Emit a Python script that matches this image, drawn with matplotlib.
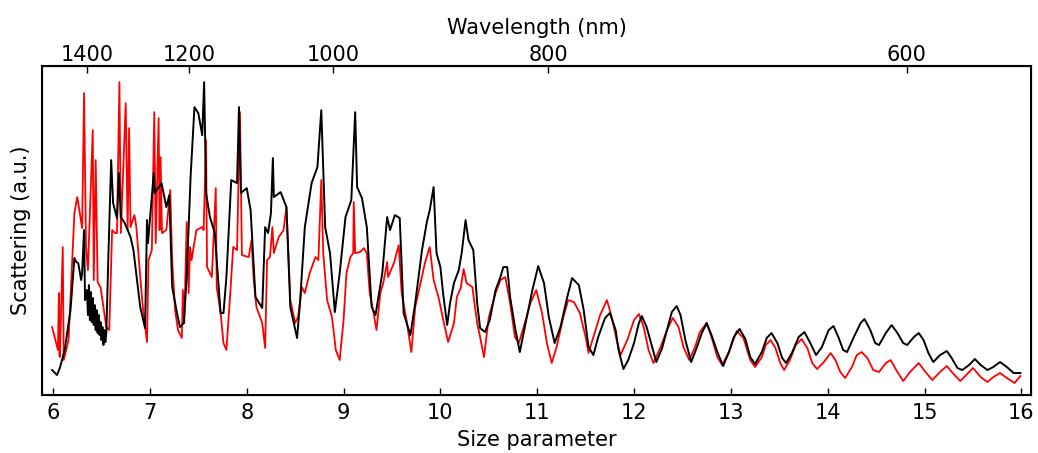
import matplotlib
matplotlib.use("Agg")
import matplotlib.pyplot as plt

# Measured (black) curve: size parameter and scattering (a.u.)
meas_x = [5.99, 6.04, 6.07, 6.12, 6.18, 6.22, 6.24, 6.26, 6.29, 6.30, 6.32, 6.33,
          6.35, 6.36, 6.37, 6.38, 6.39, 6.40, 6.41, 6.42, 6.43, 6.44, 6.45, 6.46, 6.47, 6.48,
          6.49, 6.50, 6.51, 6.52, 6.53, 6.54, 6.55, 6.57,
          6.60, 6.62, 6.66, 6.68, 6.70, 6.74, 6.80, 6.83, 6.90, 6.95, 6.97, 6.98, 7.04, 7.05,
          7.12, 7.17, 7.20, 7.23, 7.28, 7.31, 7.35, 7.38, 7.42, 7.46, 7.50, 7.54, 7.56, 7.58,
          7.62, 7.67, 7.73, 7.76, 7.79, 7.84, 7.90, 7.92, 7.94, 8.00, 8.04, 8.09, 8.16, 8.19,
          8.22, 8.25, 8.27, 8.28, 8.35, 8.41, 8.45, 8.52, 8.55, 8.60, 8.67, 8.73, 8.77, 8.81,
          8.86, 8.91, 8.96, 9.02, 9.08, 9.12, 9.14, 9.19, 9.24, 9.29, 9.33, 9.40, 9.45, 9.48,
          9.53, 9.58, 9.62, 9.69, 9.74, 9.81, 9.86,
          9.89, 9.93, 9.96, 10.00, 10.03, 10.07, 10.10, 10.14, 10.19, 10.22, 10.26, 10.29, 10.34, 10.38,
          10.41, 10.46, 10.51, 10.57, 10.62, 10.65, 10.69, 10.72, 10.77, 10.82, 10.88, 10.95, 11.01, 11.07,
          11.12, 11.18, 11.24, 11.31, 11.36, 11.43, 11.48, 11.53, 11.58, 11.63, 11.70, 11.75, 11.81, 11.84,
          11.89, 11.94, 12.00, 12.05, 12.08, 12.13, 12.19, 12.23, 12.29, 12.34, 12.39, 12.44, 12.48, 12.53,
          12.59, 12.65, 12.70, 12.75, 12.80, 12.86, 12.92, 12.98, 13.03, 13.09, 13.15, 13.20, 13.25, 13.32,
          13.37, 13.42, 13.48, 13.53, 13.57, 13.63, 13.70, 13.76, 13.82, 13.88, 13.94, 14.01, 14.06, 14.11,
          14.16, 14.20, 14.27, 14.34, 14.38, 14.44, 14.49, 14.53, 14.60, 14.66, 14.72, 14.78, 14.82, 14.89,
          14.94, 14.99, 15.04, 15.09, 15.16, 15.23, 15.28, 15.34, 15.39, 15.46, 15.52, 15.58, 15.65, 15.71,
          15.78, 15.85, 15.92, 15.99]
meas_y = [0.25, 0.20, 0.27, 0.45, 0.85, 1.37, 1.33, 1.32, 1.15, 1.22, 1.65, 0.95,
          1.05, 0.80, 1.10, 0.75, 1.03, 0.73, 0.97, 0.70, 0.90, 0.65, 0.85, 0.62, 0.80, 0.60,
          0.73, 0.55, 0.68, 0.50, 0.65, 0.53, 0.62, 1.35,
          2.35, 1.92, 1.77, 2.22, 1.78, 1.72, 1.58, 1.45, 0.88, 0.67, 1.75, 1.52, 2.22, 2.02,
          2.12, 1.88, 2.00, 1.08, 0.82, 0.68, 0.72, 1.18, 2.18, 2.88, 2.82, 2.60, 3.13, 2.02,
          1.78, 1.62, 0.82, 0.82, 1.18, 2.15, 2.12, 2.88, 2.02, 2.07, 1.85, 0.98, 0.87, 1.68,
          1.62, 1.82, 2.37, 1.98, 2.03, 1.88, 0.88, 0.57, 0.92, 1.68, 2.12, 2.28, 2.85, 1.68,
          1.42, 0.83, 1.22, 1.78, 1.95, 2.83, 2.08, 1.97, 1.68, 0.88, 0.80, 1.22, 1.78, 1.65,
          1.80, 1.77, 0.82, 0.60, 0.92, 1.45, 1.73,
          1.85, 2.08, 1.42, 1.28, 1.00, 0.70, 0.92, 1.12, 1.25, 1.42, 1.75, 1.55, 1.45, 0.92,
          0.67, 0.63, 0.75, 1.05, 1.18, 1.28, 1.28, 0.98, 0.68, 0.43, 0.72, 1.05, 1.29, 1.12,
          0.78, 0.52, 0.68, 0.98, 1.17, 1.10, 0.85, 0.48, 0.40, 0.58, 0.77, 0.82, 0.65, 0.45,
          0.26, 0.35, 0.52, 0.72, 0.79, 0.68, 0.47, 0.33, 0.47, 0.65, 0.83, 0.89, 0.80, 0.55,
          0.33, 0.48, 0.62, 0.72, 0.60, 0.43, 0.29, 0.43, 0.58, 0.66, 0.56, 0.38, 0.31, 0.43,
          0.57, 0.62, 0.52, 0.37, 0.32, 0.42, 0.58, 0.63, 0.52, 0.40, 0.48, 0.65, 0.69, 0.58,
          0.45, 0.43, 0.58, 0.72, 0.76, 0.65, 0.52, 0.50, 0.62, 0.70, 0.62, 0.52, 0.50, 0.58,
          0.62, 0.55, 0.42, 0.33, 0.40, 0.44, 0.37, 0.27, 0.25, 0.30, 0.36, 0.30, 0.25, 0.28,
          0.33, 0.28, 0.22, 0.22]

# Calculated (red) curve
calc_x = [5.99, 6.05, 6.06, 6.065, 6.07, 6.10, 6.11, 6.16, 6.19, 6.22, 6.25, 6.30, 6.32, 6.34, 6.36,
          6.41, 6.42, 6.44, 6.46, 6.49, 6.52, 6.55, 6.58, 6.61, 6.64, 6.66, 6.685, 6.70, 6.75, 6.77,
          6.785, 6.80, 6.84, 6.86, 6.90, 6.93, 6.97, 6.985, 7.02, 7.045, 7.06, 7.09, 7.10, 7.11, 7.125,
          7.17, 7.21, 7.23, 7.26, 7.29, 7.33, 7.34, 7.355, 7.38, 7.40, 7.415, 7.43, 7.48, 7.54, 7.555,
          7.58, 7.59, 7.64, 7.68, 7.69, 7.73, 7.76, 7.79, 7.83, 7.86, 7.90, 7.93, 7.95, 8.02, 8.05,
          8.07, 8.10, 8.16, 8.19, 8.21, 8.24, 8.265, 8.28, 8.33, 8.38, 8.41, 8.45, 8.50, 8.53, 8.57,
          8.60, 8.65, 8.71, 8.74, 8.77, 8.79, 8.83, 8.88, 8.92, 8.96, 9.00, 9.03, 9.07, 9.10, 9.105,
          9.12, 9.17, 9.21, 9.24, 9.27, 9.31, 9.34, 9.38, 9.41, 9.45, 9.46, 9.52, 9.57, 9.60, 9.65,
          9.70, 9.74, 9.79, 9.84,
          9.89, 9.93, 9.98, 10.03, 10.08, 10.14, 10.17, 10.21, 10.24, 10.27, 10.33, 10.38, 10.41, 10.45,
          10.50, 10.57, 10.62, 10.67, 10.72, 10.77, 10.81, 10.86, 10.93, 10.99, 11.05, 11.10, 11.15, 11.20,
          11.27, 11.32, 11.38, 11.44, 11.50, 11.53, 11.58, 11.65, 11.72, 11.77, 11.82, 11.86, 11.93, 12.00,
          12.05, 12.10, 12.15, 12.20, 12.27, 12.34, 12.40, 12.46, 12.51, 12.57, 12.63, 12.68, 12.75, 12.80,
          12.86, 12.91, 12.98, 13.06, 13.13, 13.20, 13.25, 13.32, 13.36, 13.41, 13.46, 13.51, 13.55, 13.61,
          13.67, 13.73, 13.79, 13.84, 13.89, 13.96, 14.03, 14.08, 14.13, 14.18, 14.25, 14.30, 14.35, 14.41,
          14.47, 14.53, 14.60, 14.65, 14.72, 14.78, 14.85, 14.94, 15.01, 15.08, 15.16, 15.23, 15.30, 15.37,
          15.44, 15.50, 15.58, 15.65, 15.71, 15.78, 15.85, 15.93, 15.99]
calc_y = [0.68, 0.45, 1.02, 0.40, 0.38, 1.48, 0.35, 0.55, 1.18, 1.82, 1.98, 1.67, 3.02, 1.48, 1.25,
          2.65, 1.15, 2.35, 1.13, 1.08, 0.88, 0.68, 0.65, 1.65, 1.62, 1.62, 3.13, 1.62, 2.92, 1.65,
          2.67, 1.68, 1.80, 1.68, 1.18, 0.85, 0.53, 1.35, 1.45, 2.83, 1.52, 2.77, 1.65, 2.38, 1.62,
          1.65, 2.05, 1.35, 0.85, 0.65, 0.57, 1.05, 0.72, 1.73, 1.02, 1.48, 1.35, 1.65, 1.68, 1.65,
          2.55, 1.28, 1.18, 2.07, 1.08, 0.82, 0.52, 0.45, 1.02, 1.48, 1.45, 2.83, 1.40, 1.38, 1.55,
          1.18, 0.88, 0.72, 0.47, 1.35, 1.38, 1.68, 1.42, 1.58, 1.65, 1.88, 0.95, 0.72, 0.78, 1.08,
          1.02, 1.22, 1.38, 1.35, 2.15, 1.42, 0.95, 0.78, 0.45, 0.35, 0.75, 1.22, 1.38, 1.42, 1.93,
          1.42, 1.43, 1.47, 1.42, 1.02, 0.82, 0.65, 1.02, 1.12, 1.33, 1.18, 1.32, 1.50, 1.02, 0.75,
          0.43, 0.88, 1.10, 1.32,
          1.48, 1.15, 0.98, 0.75, 0.53, 0.72, 0.98, 1.07, 1.26, 1.12, 1.08, 0.72, 0.58, 0.38,
          0.78, 1.02, 1.15, 1.18, 0.92, 0.58, 0.52, 0.68, 0.92, 1.05, 0.82, 0.52, 0.32, 0.48,
          0.78, 0.95, 0.93, 0.82, 0.58, 0.42, 0.58, 0.80, 0.95, 0.78, 0.55, 0.40, 0.55, 0.75,
          0.81, 0.68, 0.45, 0.32, 0.47, 0.65, 0.77, 0.68, 0.48, 0.35, 0.48, 0.63, 0.72, 0.58,
          0.38, 0.30, 0.43, 0.64, 0.57, 0.35, 0.28, 0.38, 0.50, 0.55, 0.47, 0.32, 0.25, 0.35,
          0.50, 0.56, 0.47, 0.32, 0.26, 0.33, 0.42, 0.35, 0.23, 0.17, 0.28, 0.40, 0.43, 0.37,
          0.25, 0.23, 0.32, 0.35, 0.23, 0.14, 0.23, 0.32, 0.23, 0.15, 0.23, 0.29, 0.21, 0.14,
          0.21, 0.27, 0.18, 0.13, 0.18, 0.22, 0.17, 0.12, 0.19]

wavelength_ticks = [1400, 1200, 1000, 800, 600]
size_times_wavelength = 8890.0  # size parameter = const / wavelength(nm)

fig = plt.figure(figsize=(10.38, 4.53), dpi=100)
ax = fig.add_axes([0.0405, 0.128, 0.9528, 0.726])
ax.plot(calc_x, calc_y, color='red', lw=1.3)
ax.plot(meas_x, meas_y, color='black', lw=1.4)
ax.set_xlim(5.886, 16.10)
ax.set_ylim(0, 3.29)
ax.set_xticks(range(6, 17))
ax.set_yticks([])
ax.tick_params(axis='x', direction='in', length=5, width=1, labelsize=15, pad=6)
ax.set_xlabel('Size parameter', fontsize=15, labelpad=4.5)
ax.set_ylabel('Scattering (a.u.)', fontsize=15, labelpad=8)
for sp in ax.spines.values():
    sp.set_linewidth(1.5)

ax2 = ax.twiny()
ax2.set_xlim(ax.get_xlim())
ax2.set_xticks([size_times_wavelength / w for w in wavelength_ticks])
ax2.set_xticklabels([str(w) for w in wavelength_ticks])
ax2.tick_params(axis='x', direction='in', length=5, width=1, labelsize=15, pad=1)
ax2.set_xlabel('Wavelength (nm)', fontsize=15, labelpad=8)

fig.savefig('out.png', dpi=100)
